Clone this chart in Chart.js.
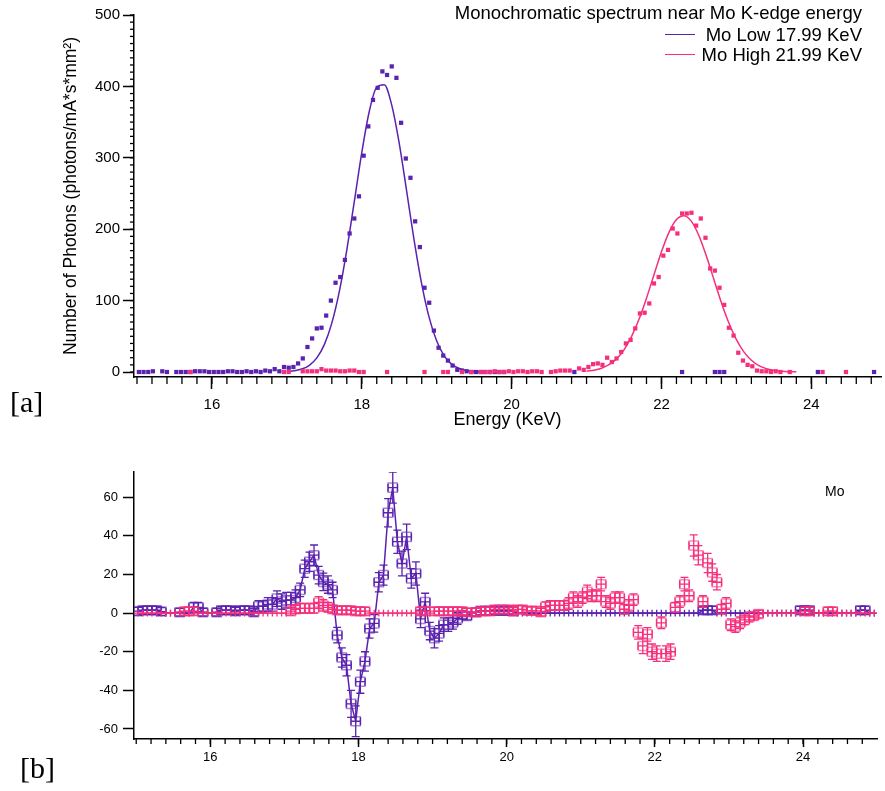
<!DOCTYPE html>
<html><head><meta charset="utf-8">
<script src="https://cdn.jsdelivr.net/npm/chart.js@4.4.1/dist/chart.umd.min.js"></script>
<style>
html,body{margin:0;padding:0;background:#fff;overflow:hidden;}
#wrap{position:relative;width:885px;height:791px;background:#fff;}
canvas{position:absolute;left:0;}
#ca{top:0;} #cb{top:440px;}
.lbl{position:absolute;font-family:"Liberation Sans",Arial,Helvetica,sans-serif;color:#000;white-space:nowrap;line-height:1;}
.serif{position:absolute;font-family:"Liberation Serif","DejaVu Serif",serif;color:#000;line-height:1;}
.ln{position:absolute;height:0;}
</style></head><body>
<div id="wrap">
<canvas id="ca" width="885" height="440"></canvas>
<canvas id="cb" width="885" height="351"></canvas>
<div class="lbl" style="right:23px;top:4px;font-size:18.5px">Monochromatic spectrum near Mo K-edge energy</div>
<div class="ln" style="left:665px;top:34px;width:30px;border-top:1.5px solid #5a22ae"></div>
<div class="lbl" style="right:23px;top:26px;font-size:18.5px">Mo Low 17.99 KeV</div>
<div class="ln" style="left:665px;top:54px;width:30px;border-top:1.5px solid #f52f7b"></div>
<div class="lbl" style="right:23px;top:46px;font-size:18.5px">Mo High 21.99 KeV</div>
<div class="serif" style="left:10px;top:387px;font-size:30px">[a]</div>
<div class="serif" style="left:20px;top:753px;font-size:30px">[b]</div>
<div class="lbl" style="left:825px;top:484px;font-size:14px">Mo</div>
</div>
<script>
// ---- channel energies (KeV) ----
const energy = [
15.025,15.0875,15.15,15.2125,15.275,15.3375,15.4,15.4625,15.525,15.5875,15.65,15.7125,15.775,15.8375,15.9,15.9625,
16.025,16.0875,16.15,16.2125,16.275,16.3375,16.4,16.4625,16.525,16.5875,16.65,16.7125,16.775,16.8375,16.9,16.9625,
17.025,17.0875,17.15,17.2125,17.275,17.3375,17.4,17.4625,17.525,17.5875,17.65,17.7125,17.775,17.8375,17.9,17.9625,
18.025,18.0875,18.15,18.2125,18.275,18.3375,18.4,18.4625,18.525,18.5875,18.65,18.7125,18.775,18.8375,18.9,18.9625,
19.025,19.0875,19.15,19.2125,19.275,19.3375,19.4,19.4625,19.525,19.5875,19.65,19.7125,19.775,19.8375,19.9,19.9625,
20.025,20.0875,20.15,20.2125,20.275,20.3375,20.4,20.4625,20.525,20.5875,20.65,20.7125,20.775,20.8375,20.9,20.9625,
21.025,21.0875,21.15,21.2125,21.275,21.3375,21.4,21.4625,21.525,21.5875,21.65,21.7125,21.775,21.8375,21.9,21.9625,
22.025,22.0875,22.15,22.2125,22.275,22.3375,22.4,22.4625,22.525,22.5875,22.65,22.7125,22.775,22.8375,22.9,22.9625,
23.025,23.0875,23.15,23.2125,23.275,23.3375,23.4,23.4625,23.525,23.5875,23.65,23.7125,23.775,23.8375,23.9,23.9625,
24.025,24.0875,24.15,24.2125,24.275,24.3375,24.4,24.4625,24.525,24.5875,24.65,24.7125,24.775,24.8375,24.9,24.9625];

// ---- panel [a]: photons per channel ----
const moLowCounts = [
0,0,0,1,null,1,0,null,0,0,0,0,1,1,1,0,
0,0,0,1,1,0,0,1,0,1,0,2,1,4,1,7,
6,7,12,19,35,47,61,62,79,100,125,133,157,194,215,246,
303,344,381,398,421,416,428,412,349,299,272,211,175,118,97,58,
34,23,16,9,3,2,1,0,0,0,0,0,0,0,0,null,
null,null,null,null,null,null,null,null,null,null,null,null,null,0,null,null,
null,null,null,null,null,null,null,null,null,null,null,null,null,null,null,null,
null,null,null,null,0,null,null,null,null,null,null,0,0,0,null,null,
null,null,null,null,null,null,null,null,null,null,null,null,null,null,null,null,
null,0,null,null,null,null,null,null,null,null,null,null,null,0,null,null];
const moHighCounts = [
null,null,null,null,null,null,null,null,null,null,null,0,null,null,null,null,
null,null,null,null,null,null,null,null,null,null,null,null,null,null,null,0,
0,null,null,1,1,1,1,4,2,2,2,1,1,2,2,0,
0,null,null,null,null,0,null,null,null,null,null,null,null,0,null,null,
null,0,0,null,null,0,null,0,null,0,0,0,1,0,0,1,
0,1,1,0,1,1,0,null,0,1,2,2,2,null,5,3,
7,11,12,10,20,14,19,28,40,45,61,82,83,96,124,133,
163,171,201,194,222,222,223,205,215,188,145,142,118,94,62,51,
27,16,10,8,2,1,1,0,1,0,null,0,null,null,null,null,
null,null,0,null,null,null,null,0,null,null,null,null,null,null,null,null];

// fitted curves
const fitLowE = [17.0,17.1,17.2,17.3,17.4,17.5,17.6,17.7,17.8,17.9,18.0,18.1,18.2,18.3,18.4,18.5,18.6,18.7,18.8,18.9,19.0,19.1,19.2,19.3,19.4,19.5,19.6];
const fitLowV = [0.6,1.7,4.1,9.4,19.8,38.4,68.4,112.6,170.8,238.6,307.3,364.8,399.1,402.4,373.8,320.2,252.7,183.8,123.2,76.1,43.3,22.7,11.0,4.9,2.0,0.8,0.3];
const fitHighE = [21.0,21.1,21.2,21.3,21.4,21.5,21.6,21.7,21.8,21.9,22.0,22.1,22.2,22.3,22.4,22.5,22.6,22.7,22.8,22.9,23.0,23.1,23.2,23.3,23.4,23.5,23.6,23.7,23.8];
const fitHighV = [1.2,2.6,5.3,10.2,18.4,31.1,49.5,73.8,103.4,136.2,168.4,195.6,213.5,219.0,210.9,190.8,162.2,129.5,97.1,68.5,45.3,28.2,16.5,9.0,4.7,2.3,1.0,0.4,0.2];

// ---- panel [b]: residuals with errors ----
const moLowRes = [
1,1.5,1.5,1.5,1.5,0.8,0,0,0,0.5,0,0,3,3,0.5,0,
0,0.5,1.5,1.5,1.5,1,1.5,1.5,1.5,0.5,3.5,3.5,4.5,4.5,7.5,6,
6.7,6.7,8,12,23,26.6,30,19.7,16.2,14.8,12,-11.4,-23,-27,-47,-56,
-35.5,-25,-8,-5.3,16,19.7,52,65,37,25.7,39.5,18,20.5,-3,5.8,-9.3,
-13,-10.5,-6,-6,-4.8,-2.8,-1,-1.5,0,0.5,1.2,1.2,1.2,1.2,1.2,1.2,
1.2,1,0,0,0,0,0,0,0,0,0,0,0,0,0,0,
0,0,0,0,0,0,0,0,0,0,0,0,0,0,0,0,
0,0,0,0,0,0,0,0,0,0,1.5,1.5,1.5,0,0,0,
0,0,0,0,0,0,0,0,0,0,0,0,0,0,0,1.5,
1.5,1.5,0,0,0,0,0,0,0,0,0,0,1.5,1.5,0,0];
const moLowErr = [
2,2,2,2,2,2,1.7,1.7,1.7,2,1.7,1.7,2.5,2.5,2,1.7,
1.7,2,2,2,2,2,2,2,2,2,3,3,3.5,3.5,4,4,
4,4,4,3.5,4.5,5,5.3,4.5,4.5,4.5,4,4,5,5.5,7,8,
6,5,5,4.5,5,5.2,7.3,8,6,6.4,6.6,5,6,4.5,4.5,4.5,
5,4,3.5,3.5,3.5,3,2,2,1.7,2,2,2,2,2,2,2,
2,2,1.7,1.7,1.7,1.7,1.7,1.7,1.7,1.7,1.7,1.7,1.7,1.7,1.7,1.7,
1.7,1.7,1.7,1.7,1.7,1.7,1.7,1.7,1.7,1.7,1.7,1.7,1.7,1.7,1.7,1.7,
1.7,1.7,1.7,1.7,1.7,1.7,1.7,1.7,1.7,1.7,2,2,2,1.7,1.7,1.7,
1.7,1.7,1.7,1.7,1.7,1.7,1.7,1.7,1.7,1.7,1.7,1.7,1.7,1.7,1.7,2,
2,2,1.7,1.7,1.7,1.7,1.7,1.7,1.7,1.7,1.7,1.7,2,2,1.7,1.7];
const moHighRes = [
0,0,0,0,0,0,0,0,0,0,1,1,1,0,0,0,
0,0,0,0,0,0,0,0,0,0,0,0,0,0,0,0,
0,1,2,2.5,2.5,2.5,2.5,5.5,4,3,2,1.5,1.5,1.5,1.5,1,
1,1,0,0,0,0,0,0,0,0,0,0,0,1,1,0,
1,1,1,1,1,1,1,0.5,0,0.5,1,1,1,1.9,1.9,1.9,
1.9,1,1.9,1.9,1.2,1.2,1.2,0.5,3.3,4,4,4,4,5,8,6,
8,11,9,9,15,6,5,8,8,2,4,7,-10,-17,-11,-20,
-21,-5,-21,-20,3,6,15,9,35,30,6,26,21,16,2,5,
-6,-7,-5,-3.5,-2,-1.5,-0.5,0,0,0,0,0,0,0,0,0,
1,1,0,0,0,1,1,0,0,0,0,0,0,0,0,0];
const moHighErr = [
1.7,1.7,1.7,1.7,1.7,1.7,1.7,1.7,1.7,1.7,2,2,2,1.7,1.7,1.7,
1.7,1.7,1.7,1.7,1.7,1.7,1.7,1.7,1.7,1.7,1.7,1.7,1.7,1.7,1.7,1.7,
1.7,2,2,2.5,2.5,2.5,2.5,3,3,2.5,2,2,2,2,2,2,
2,2,1.7,1.7,1.7,1.7,1.7,1.7,1.7,1.7,1.7,1.7,1.7,2,2,1.7,
2,2,2,2,2,2,2,2,1.7,2,2,2,2,2,2,2,
2,2,2,2,2,2,2,2,2.5,2.5,2.5,2.5,2.5,3,3,3,
3,3.5,3,3,3.5,3,3,3,3,2.5,3,3,3.5,4,3.5,4,
4,3,4,4,2.5,3,3.5,3,5.5,5,3,5,4.5,4,2.5,3,
3,3,3,2.5,2.5,2,2,1.7,1.7,1.7,1.7,1.7,1.7,1.7,1.7,1.7,
2,2,1.7,1.7,1.7,2,2,1.7,1.7,1.7,1.7,1.7,1.7,1.7,1.7,1.7];
const energyHalfWidth = 0.065;

// ---- tick labels ----
const xTickLabels = [16,18,20,22,24];
const yTickLabelsA = [0,100,200,300,400,500];
const yTickLabelsB = [-60,-40,-20,0,20,40,60];

const PURPLE = '#5a22ae';
const PINK = '#f52f7b';
const FONT = '"Liberation Sans", Arial, Helvetica, sans-serif';

function pts(xs, ys){ return xs.map((x,i)=>({x:x, y:ys[i]})); }
function range(a,b,s){ const r=[]; for(let v=a; v<=b+1e-9; v+=s) r.push(Math.round(v*1000)/1000); return r; }

const minorTicks = {
  id:'minorTicks',
  afterDraw(chart, args, opts){
    const ctx = chart.ctx;
    ctx.save(); ctx.strokeStyle='#000'; ctx.lineWidth=1.3;
    (opts.list||[]).forEach(spec=>{
      const sc = chart.scales[spec.axis];
      spec.values.forEach(v=>{
        if (v < sc.min || v > sc.max) return;
        const p = sc.getPixelForValue(v);
        ctx.beginPath();
        if (sc.isHorizontal()){ ctx.moveTo(p, sc.top); ctx.lineTo(p, sc.top+spec.len); }
        else { ctx.moveTo(sc.right, p); ctx.lineTo(sc.right-spec.len, p); }
        ctx.stroke();
      });
    });
    ctx.restore();
  }
};

const errorBars = {
  id:'errorBars',
  afterDatasetDraw(chart, args){
    const ds = chart.data.datasets[args.index];
    if (!ds.errY) return;
    const xs = chart.scales.x, ys = chart.scales.y, ctx = chart.ctx, a = chart.chartArea;
    ctx.save();
    ctx.beginPath(); ctx.rect(a.left, a.top, a.right-a.left, a.bottom-a.top); ctx.clip();
    ctx.strokeStyle = ds.errColor; ctx.lineWidth = 1.3;
    ds.data.forEach((d,i)=>{
      if (d.y === null) return;
      const e = ds.errY[i];
      const px = xs.getPixelForValue(d.x), py = ys.getPixelForValue(d.y);
      const y1 = ys.getPixelForValue(d.y+e), y2 = ys.getPixelForValue(d.y-e);
      const x1 = xs.getPixelForValue(d.x-ds.errX), x2 = xs.getPixelForValue(d.x+ds.errX);
      ctx.beginPath();
      ctx.moveTo(px,y1); ctx.lineTo(px,y2);
      ctx.moveTo(x1,py); ctx.lineTo(x2,py);
      if (d.y !== 0){
        const c = 4;
        ctx.moveTo(px-c,y1); ctx.lineTo(px+c,y1);
        ctx.moveTo(px-c,y2); ctx.lineTo(px+c,y2);
        ctx.moveTo(x1,py-c); ctx.lineTo(x1,py+c);
        ctx.moveTo(x2,py-c); ctx.lineTo(x2,py+c);
      }
      ctx.stroke();
    });
    ctx.restore();
  }
};

Chart.defaults.font.family = FONT;
Chart.defaults.color = '#000';

// ---------- panel [a] ----------
new Chart(document.getElementById('ca'), {
  type:'line',
  data:{datasets:[
    {label:'Mo High 21.99 KeV data', data:pts(energy, moHighCounts), showLine:false, pointStyle:'rect', pointRadius:3, pointBackgroundColor:PINK, pointBorderWidth:0, order:1},
    {label:'Mo Low 17.99 KeV data', data:pts(energy, moLowCounts), showLine:false, pointStyle:'rect', pointRadius:3, pointBackgroundColor:PURPLE, pointBorderWidth:0, order:2},
    {label:'Mo High 21.99 KeV', data:pts(fitHighE, fitHighV), borderColor:PINK, borderWidth:1.5, pointRadius:0, cubicInterpolationMode:'monotone', order:3},
    {label:'Mo Low 17.99 KeV', data:pts(fitLowE, fitLowV), borderColor:PURPLE, borderWidth:1.5, pointRadius:0, cubicInterpolationMode:'monotone', order:4}
  ]},
  options:{
    responsive:false, animation:false, events:[],
    layout:{padding:{top:15,left:0,right:0,bottom:0}},
    plugins:{legend:{display:false}, tooltip:{enabled:false},
      minorTicks:{list:[{axis:'x', values:range(15,24.8,0.2), len:7},{axis:'y', values:range(0,500,10), len:4}]}},
    scales:{
      x:{type:'linear', min:14.96, max:24.93,
        afterBuildTicks:s=>{ s.ticks = xTickLabels.map(v=>({value:v})); },
        afterFit:s=>{ s.height = 63; },
        ticks:{font:{size:15}, color:'#000', padding:7, maxRotation:0, autoSkip:false},
        grid:{display:true, drawOnChartArea:false, drawTicks:true, tickLength:12, tickColor:'#000', tickWidth:1.5},
        border:{display:true, color:'#000', width:1.5},
        title:{display:true, text:'Energy (KeV)', font:{size:18}, color:'#000', padding:{top:0,bottom:9}}
      },
      y:{type:'linear', min:-7, max:500,
        afterBuildTicks:s=>{ s.ticks = yTickLabelsA.map(v=>({value:v})); },
        afterFit:s=>{ s.width = 134; },
        ticks:{font:{size:15}, color:'#000', padding:3},
        grid:{display:true, drawOnChartArea:false, drawTicks:true, tickLength:11, tickColor:'#000', tickWidth:1.5},
        border:{display:true, color:'#000', width:1.5},
        title:{display:true, text:'Number of Photons (photons/mA*s*mm²)', font:{size:17.5}, color:'#000', padding:{top:61,bottom:0}}
      }
    }
  },
  plugins:[minorTicks]
});

// ---------- panel [b] ----------
new Chart(document.getElementById('cb'), {
  type:'line',
  data:{datasets:[
    {label:'Mo High 21.99 KeV', data:pts(energy, moHighRes), showLine:false, pointStyle:'rect',
      pointRadius:c=>{ const v=c.raw&&c.raw.y; return (v===0||v===null)?0:6.4; },
      pointBackgroundColor:'rgba(0,0,0,0)', pointBorderColor:'rgba(245,47,123,0.55)', pointBorderWidth:1.5,
      errY:moHighErr, errX:energyHalfWidth, errColor:PINK, order:1},
    {label:'Mo Low 17.99 KeV', data:pts(energy, moLowRes), borderColor:PURPLE, borderWidth:1.5, tension:0, pointStyle:'rect',
      pointRadius:c=>{ const v=c.raw&&c.raw.y; return (v===0||v===null)?0:6.4; },
      pointBackgroundColor:'rgba(0,0,0,0)', pointBorderColor:'rgba(90,34,174,0.55)', pointBorderWidth:1.5,
      errY:moLowErr, errX:energyHalfWidth, errColor:PURPLE, order:2}
  ]},
  options:{
    responsive:false, animation:false, events:[],
    layout:{padding:{top:32,left:0,right:0,bottom:0}},
    plugins:{legend:{display:false}, tooltip:{enabled:false},
      minorTicks:{list:[{axis:'x', values:range(15,24.8,0.2), len:5}]}},
    scales:{
      x:{type:'linear', min:14.97, max:25.0,
        afterBuildTicks:s=>{ s.ticks = xTickLabels.map(v=>({value:v})); },
        afterFit:s=>{ s.height = 52; },
        ticks:{font:{size:13}, color:'#000', padding:3, maxRotation:0, autoSkip:false},
        grid:{display:true, drawOnChartArea:false, drawTicks:true, tickLength:8, tickColor:'#000', tickWidth:1.5},
        border:{display:true, color:'#000', width:1.5}
      },
      y:{type:'linear', min:-65.2, max:73.1,
        afterBuildTicks:s=>{ s.ticks = yTickLabelsB.map(v=>({value:v})); },
        afterFit:s=>{ s.width = 134; },
        ticks:{font:{size:13}, color:'#000', padding:5},
        grid:{display:true, drawOnChartArea:false, drawTicks:true, tickLength:11, tickColor:'#000', tickWidth:1.5},
        border:{display:true, color:'#000', width:1.5}
      }
    }
  },
  plugins:[minorTicks, errorBars]
});
</script>
</body></html>
